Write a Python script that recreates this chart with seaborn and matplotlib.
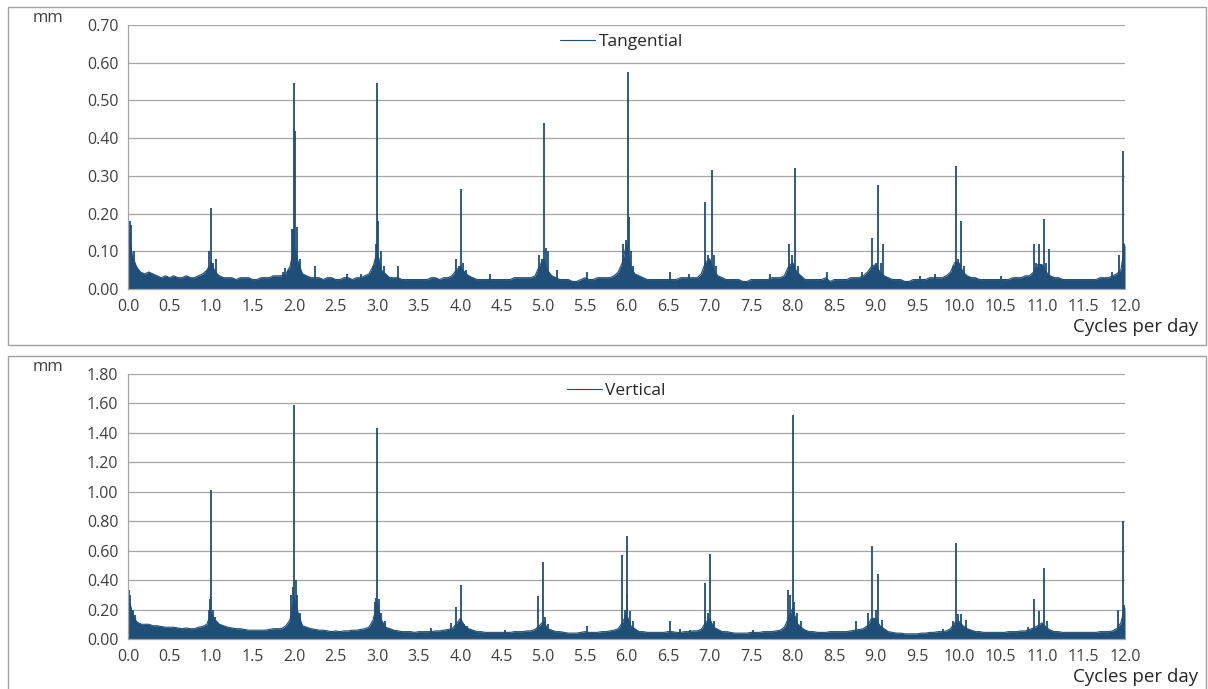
import numpy as np
import matplotlib
matplotlib.use("Agg")
import matplotlib.pyplot as plt
import seaborn as sns
from matplotlib.patches import Rectangle

# frequency grid for the noise floor (cycles per day, 0.05 step)
freq = np.round(np.arange(0, 12.001, 0.05), 2)

# Tangential: upper edge of the noise band, one row per cycle/day
tan_floor = [
    0.17, 0.09, 0.06, 0.045, 0.04, 0.045, 0.04, 0.035, 0.03, 0.035, 0.03, 0.035, 0.03, 0.03, 0.035, 0.03, 0.03, 0.035, 0.04, 0.05,
    0.07, 0.045, 0.035, 0.03, 0.03, 0.03, 0.025, 0.03, 0.03, 0.03, 0.025, 0.025, 0.03, 0.03, 0.03, 0.035, 0.035, 0.035, 0.04, 0.06,
    0.11, 0.07, 0.04, 0.035, 0.03, 0.03, 0.03, 0.025, 0.03, 0.03, 0.025, 0.025, 0.03, 0.03, 0.025, 0.03, 0.03, 0.035, 0.04, 0.06,
    0.10, 0.05, 0.04, 0.03, 0.03, 0.03, 0.025, 0.025, 0.025, 0.025, 0.025, 0.025, 0.025, 0.03, 0.03, 0.025, 0.03, 0.03, 0.035, 0.05,
    0.06, 0.045, 0.035, 0.03, 0.025, 0.025, 0.025, 0.025, 0.025, 0.025, 0.025, 0.025, 0.025, 0.03, 0.03, 0.03, 0.03, 0.03, 0.035, 0.06,
    0.08, 0.05, 0.035, 0.03, 0.025, 0.025, 0.025, 0.02, 0.02, 0.025, 0.03, 0.025, 0.025, 0.03, 0.03, 0.03, 0.03, 0.035, 0.045, 0.07,
    0.12, 0.06, 0.04, 0.035, 0.03, 0.025, 0.025, 0.025, 0.025, 0.025, 0.025, 0.025, 0.025, 0.03, 0.03, 0.03, 0.03, 0.03, 0.04, 0.07,
    0.08, 0.05, 0.035, 0.03, 0.025, 0.025, 0.025, 0.025, 0.02, 0.02, 0.025, 0.025, 0.025, 0.025, 0.025, 0.03, 0.03, 0.03, 0.035, 0.06,
    0.07, 0.045, 0.035, 0.025, 0.025, 0.025, 0.025, 0.025, 0.03, 0.02, 0.025, 0.025, 0.025, 0.025, 0.03, 0.03, 0.03, 0.035, 0.045, 0.06,
    0.065, 0.045, 0.035, 0.03, 0.025, 0.025, 0.025, 0.02, 0.02, 0.025, 0.025, 0.025, 0.025, 0.03, 0.03, 0.03, 0.03, 0.035, 0.045, 0.07,
    0.07, 0.045, 0.035, 0.03, 0.03, 0.025, 0.025, 0.025, 0.025, 0.025, 0.025, 0.025, 0.025, 0.03, 0.03, 0.03, 0.035, 0.035, 0.045, 0.065,
    0.065, 0.045, 0.035, 0.03, 0.03, 0.025, 0.025, 0.025, 0.025, 0.025, 0.025, 0.025, 0.025, 0.025, 0.03, 0.03, 0.03, 0.035, 0.04, 0.05,
    0.12,
]

# Tangential: narrow spectral lines
tan_spike_f = [0.00, 0.02, 0.04, 0.07, 0.95, 0.98, 1.00, 1.02, 1.06,
               1.87, 1.89, 1.93, 1.97, 1.99, 2.00, 2.005, 2.04, 2.07, 2.25,
               2.63, 2.81, 2.95, 2.98, 3.00, 3.01, 3.04, 3.08, 3.25,
               3.95, 3.98, 4.01, 4.03, 4.07, 4.36,
               4.95, 4.98, 5.01, 5.03, 5.06, 5.16, 5.52,
               5.96, 5.99, 6.02, 6.03, 6.05, 6.08, 6.52, 6.75,
               6.95, 6.98, 7.03, 7.05, 7.08, 7.73,
               7.95, 7.99, 8.03, 8.06, 8.41, 8.83,
               8.96, 9.00, 9.03, 9.06, 9.09, 9.53, 9.71,
               9.93, 9.96, 9.99, 10.03, 10.06, 10.51,
               10.90, 10.93, 10.96, 11.00, 11.02, 11.05, 11.09,
               11.84, 11.93, 11.97, 11.99]
tan_spike_a = [0.50, 0.18, 0.17, 0.10, 0.05, 0.10, 0.215, 0.07, 0.08,
               0.045, 0.055, 0.05, 0.16, 0.16, 0.545, 0.42, 0.165, 0.08, 0.06,
               0.04, 0.04, 0.06, 0.12, 0.545, 0.18, 0.10, 0.06, 0.06,
               0.08, 0.06, 0.265, 0.07, 0.05, 0.04,
               0.09, 0.08, 0.44, 0.11, 0.10, 0.05, 0.045,
               0.12, 0.13, 0.575, 0.19, 0.10, 0.06, 0.045, 0.04,
               0.23, 0.09, 0.315, 0.09, 0.06, 0.04,
               0.12, 0.09, 0.32, 0.06, 0.045, 0.045,
               0.135, 0.07, 0.275, 0.07, 0.12, 0.035, 0.04,
               0.06, 0.325, 0.08, 0.18, 0.06, 0.035,
               0.12, 0.07, 0.12, 0.06, 0.185, 0.07, 0.105,
               0.045, 0.09, 0.365, 0.12]

# Vertical: upper edge of the noise band
ver_floor = [
    0.30, 0.18, 0.12, 0.10, 0.10, 0.10, 0.09, 0.09, 0.085, 0.08, 0.08, 0.08, 0.075, 0.07, 0.075, 0.07, 0.07, 0.08, 0.085, 0.10,
    0.18, 0.13, 0.10, 0.09, 0.08, 0.075, 0.07, 0.07, 0.065, 0.06, 0.06, 0.06, 0.06, 0.06, 0.065, 0.07, 0.07, 0.07, 0.09, 0.13,
    0.28, 0.17, 0.09, 0.08, 0.07, 0.065, 0.06, 0.06, 0.055, 0.05, 0.055, 0.05, 0.055, 0.055, 0.06, 0.06, 0.065, 0.07, 0.08, 0.13,
    0.24, 0.13, 0.08, 0.07, 0.06, 0.055, 0.05, 0.05, 0.05, 0.045, 0.05, 0.05, 0.05, 0.05, 0.055, 0.055, 0.06, 0.065, 0.07, 0.10,
    0.14, 0.09, 0.07, 0.06, 0.05, 0.05, 0.045, 0.045, 0.045, 0.045, 0.045, 0.045, 0.045, 0.05, 0.05, 0.05, 0.055, 0.055, 0.065, 0.09,
    0.12, 0.07, 0.06, 0.05, 0.05, 0.045, 0.04, 0.04, 0.04, 0.045, 0.05, 0.045, 0.045, 0.045, 0.05, 0.05, 0.055, 0.06, 0.07, 0.11,
    0.17, 0.09, 0.07, 0.05, 0.05, 0.045, 0.045, 0.045, 0.045, 0.045, 0.05, 0.05, 0.045, 0.045, 0.05, 0.05, 0.055, 0.055, 0.065, 0.11,
    0.14, 0.08, 0.065, 0.05, 0.05, 0.045, 0.04, 0.04, 0.04, 0.04, 0.045, 0.045, 0.045, 0.05, 0.05, 0.05, 0.055, 0.06, 0.08, 0.14,
    0.21, 0.11, 0.08, 0.06, 0.05, 0.05, 0.045, 0.045, 0.045, 0.05, 0.05, 0.05, 0.05, 0.05, 0.055, 0.06, 0.065, 0.07, 0.09, 0.14,
    0.14, 0.09, 0.07, 0.05, 0.045, 0.04, 0.04, 0.035, 0.035, 0.035, 0.035, 0.04, 0.04, 0.045, 0.045, 0.05, 0.05, 0.055, 0.07, 0.11,
    0.12, 0.09, 0.07, 0.06, 0.05, 0.05, 0.045, 0.045, 0.045, 0.045, 0.045, 0.045, 0.05, 0.05, 0.05, 0.055, 0.055, 0.065, 0.075, 0.09,
    0.11, 0.08, 0.06, 0.05, 0.05, 0.045, 0.045, 0.045, 0.045, 0.045, 0.045, 0.045, 0.045, 0.045, 0.05, 0.05, 0.05, 0.055, 0.07, 0.11,
    0.22,
]

ver_spike_f = [0.00, 0.01, 0.03, 0.06, 0.09, 0.14, 0.18,
               0.97, 0.99, 1.00, 1.02, 1.05,
               1.96, 1.98, 2.00, 2.02, 2.04, 2.07,
               2.97, 2.99, 3.00, 3.02, 3.05, 3.09, 3.65,
               3.89, 3.95, 4.01, 4.04, 4.08, 4.54,
               4.94, 5.00, 5.02, 5.06, 5.52,
               5.95, 5.98, 6.00, 6.01, 6.04, 6.08, 6.52, 6.64, 6.76,
               6.94, 6.98, 7.01, 7.05, 7.52,
               7.94, 7.97, 8.00, 8.02, 8.05, 8.10, 8.76,
               8.91, 8.96, 9.00, 9.03, 9.07, 9.81,
               9.93, 9.96, 9.99, 10.03, 10.09,
               10.83, 10.90, 10.96, 11.03, 11.06,
               11.91, 11.97, 11.99]
ver_spike_a = [1.20, 0.33, 0.30, 0.20, 0.16, 0.11, 0.09,
               0.20, 0.27, 1.01, 0.20, 0.15,
               0.30, 0.35, 1.59, 0.40, 0.30, 0.18,
               0.25, 0.28, 1.43, 0.27, 0.18, 0.12, 0.075,
               0.11, 0.22, 0.37, 0.10, 0.09, 0.06,
               0.29, 0.52, 0.15, 0.10, 0.09,
               0.57, 0.20, 0.30, 0.70, 0.19, 0.12, 0.12, 0.07, 0.06,
               0.38, 0.18, 0.58, 0.12, 0.06,
               0.33, 0.30, 1.52, 0.25, 0.18, 0.12, 0.12,
               0.18, 0.63, 0.20, 0.44, 0.13, 0.07,
               0.12, 0.65, 0.17, 0.17, 0.13,
               0.08, 0.27, 0.19, 0.48, 0.12,
               0.20, 0.80, 0.23]

panels = [
    ("Tangential", tan_floor, tan_spike_f, tan_spike_a, 0.70, 0.10),
    ("Vertical", ver_floor, ver_spike_f, ver_spike_a, 1.80, 0.20),
]

sns.set_style("white")
plt.rcParams["font.family"] = ["Open Sans", "DejaVu Sans"]

blue = "#1F4E79"
grid_c = "#A6A6A6"
W, H = 1208, 689
fig = plt.figure(figsize=(W / 100, H / 100), dpi=100)

# axes boxes in pixels: (left, top, right, bottom)
boxes = [(128, 25, 1125, 289), (128, 374, 1125, 639)]
frames = [(8, 7, 1206, 345), (8, 356, 1206, 690)]
leg_x = [0.495, 0.49]

for i, (name, floor, sf, sa, ymax, ystep) in enumerate(panels):
    l, t, r, b = boxes[i]
    ax = fig.add_axes([l / W, 1 - b / H, (r - l) / W, (b - t) / H])
    ax.fill_between(freq, 0, floor, color=blue, lw=0)
    sns.lineplot(x=freq, y=floor, ax=ax, color=blue, lw=0.8, label=name)
    ax.vlines(sf, 0, sa, color=blue, lw=1.3)

    ax.set_xlim(0, 12)
    ax.set_ylim(0, ymax)
    ax.set_xticks(np.arange(0, 12.01, 0.5))
    ax.set_xticklabels([f"{v:.1f}" for v in np.arange(0, 12.01, 0.5)])
    yt = np.arange(0, ymax + 1e-9, ystep)
    ax.set_yticks(yt)
    ax.set_yticklabels([f"{v:.2f}" for v in yt])
    ax.tick_params(axis="both", labelsize=11.5, colors="#404040", length=4,
                   width=0.8, pad=3)
    ax.tick_params(axis="both", color=grid_c)
    ax.yaxis.grid(True, color=grid_c, lw=0.9)
    ax.set_axisbelow(True)
    for s in ["top", "right"]:
        ax.spines[s].set_visible(False)
    for s in ["left", "bottom"]:
        ax.spines[s].set_color(grid_c)
        ax.spines[s].set_linewidth(0.9)
    ax.set_xlabel("")
    ax.set_ylabel("")
    ax.legend(loc="center", bbox_to_anchor=(leg_x[i], 0.936), frameon=False,
              fontsize=12.5, handlelength=2.0, handletextpad=0.2)

    fx0, fy0, fx1, fy1 = frames[i]
    fig.add_artist(Rectangle((fx0 / W, 1 - fy1 / H), (fx1 - fx0) / W, (fy1 - fy0) / H,
                             transform=fig.transFigure, fill=False,
                             edgecolor="#A0A0A0", lw=1))
    fig.text(48 / W, 1 - (t - 7) / H, "mm", ha="center", va="center",
             fontsize=12, color="#404040")
    fig.text(1198 / W, 1 - (b + 38) / H, "Cycles per day", ha="right",
             va="center", fontsize=13.5, color="#262626")

fig.savefig("out.png", dpi=100)
